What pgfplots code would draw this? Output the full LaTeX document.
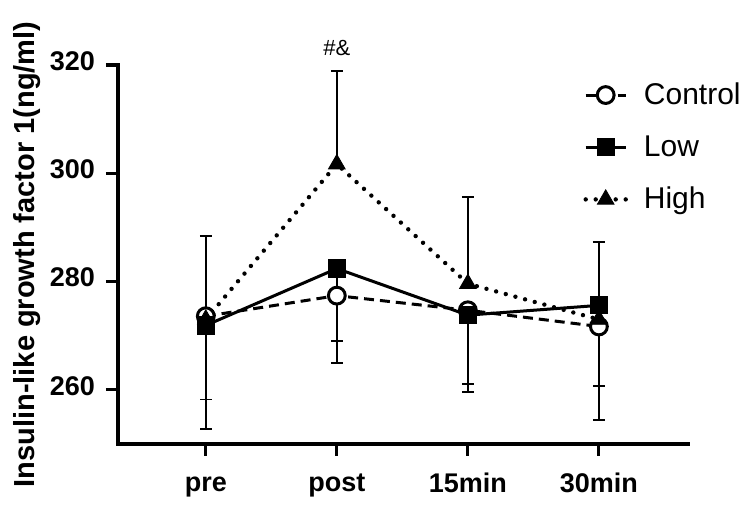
\documentclass[border=0pt]{standalone}
\usepackage{fontspec}
\setmainfont{Liberation Sans}
\usepackage{pgfplots}
\pgfplotsset{compat=1.18}

\begin{document}
\begin{tikzpicture}
\begin{axis}[
  scale only axis,
  width=285pt, height=189.5pt,
  xmin=-0.67, xmax=3.68,
  ymin=250, ymax=320,
  axis lines=left,
  axis line style={-, line width=1.75pt, line cap=rect},
  xtick={0,1,2,3},
  xticklabels={pre,post,15min,30min},
  ytick={260,280,300,320},
  tick align=outside,
  major tick length=6pt,
  tick style={line width=1.6pt, black},
  /pgf/number format/assume math mode=true,
  ticklabel style={font=\fontsize{13.5}{13.5}\selectfont\bfseries},
  typeset ticklabels with strut,
  xticklabel style={yshift=-5pt},
  yticklabel style={xshift=-2pt},
  ylabel={Insulin-like growth factor 1(ng/ml)},
  ylabel style={font=\fontsize{14.5}{14.5}\selectfont\bfseries, yshift=-2pt},
  clip=false,
  legend cell align=left,
  legend style={draw=none, fill=none, at={(rel axis cs:0.816,0.965)}, anchor=north west,
    font=\fontsize{15}{15}\selectfont, row sep=10pt, inner sep=0pt,
    /tikz/every odd column/.append style={column sep=6pt}},
  legend image code/.code={\draw[mark repeat=2,mark phase=2,#1] plot coordinates {(0pt,0pt) (10pt,0pt) (20pt,0pt)};},
  error bars/error mark options={rotate=90, mark size=3pt, line width=0.9pt, black, solid},
  error bars/error bar style={line width=0.9pt, black, solid},
]

% Control: dashed, open circle, errors below
\addplot[black, line width=1.5pt, dash pattern=on 5pt off 3pt,
  mark=*, mark size=4.2pt, mark options={solid, fill=white, draw=black, line width=1.5pt},
  error bars/.cd, y dir=minus, y explicit]
  table[x=x, y=y, y error=e] {
x y e
0 273.6 15.4
1 277.4 8.4
2 274.7 13.6
3 271.7 17.3
};
\addlegendentry{Control}

% Low: solid, filled square, errors below
\addplot[black, line width=1.5pt,
  mark=square*, mark size=3.8pt, mark options={solid, fill=black},
  error bars/.cd, y dir=minus, y explicit]
  table[x=x, y=y, y error=e] {
x y e
0 271.9 19.2
1 282.4 17.4
2 273.8 14.2
3 275.6 14.9
};
\addlegendentry{Low}

% High: dotted, filled triangle, errors above
\addplot[black, line width=2.2pt, line cap=round, dash pattern=on 0pt off 5pt,
  mark=triangle*, mark size=4.8pt, mark options={solid, fill=black, line width=0.4pt},
  error bars/.cd, y dir=plus, y explicit]
  table[x=x, y=y, y error=e] {
x y e
0 273.0 15.4
1 301.7 17.2
2 279.6 16.0
3 273.0 14.3
};
\addlegendentry{High}

\node[font=\fontsize{11}{11}\selectfont, anchor=south] at (axis cs:1,320.4) {\#\&};
\end{axis}
\pgfresetboundingbox
\path[use as bounding box] ([xshift=-59pt,yshift=-33.5pt]current axis.south west) rectangle ([xshift=31pt,yshift=32.5pt]current axis.north east);
\end{tikzpicture}
\end{document}
